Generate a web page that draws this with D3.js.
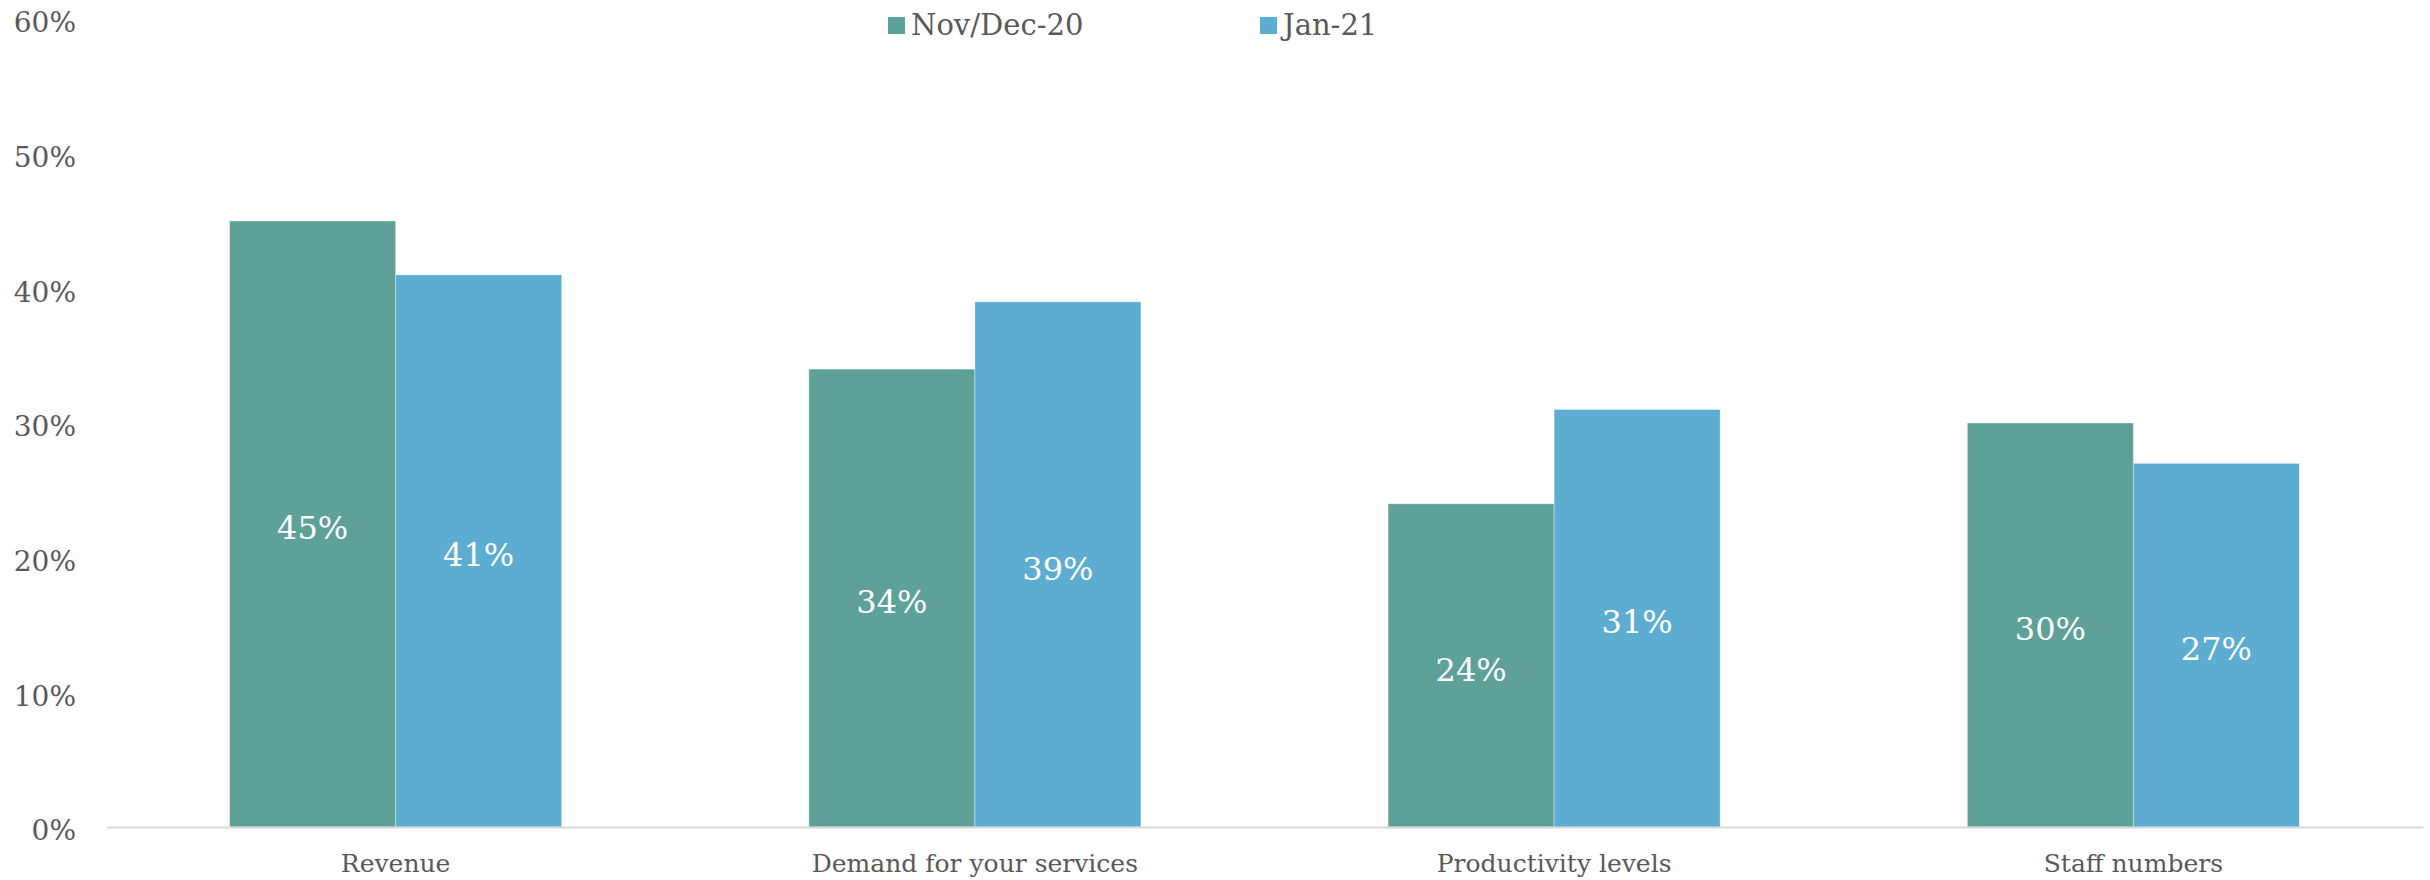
<!DOCTYPE html>
<html>
<head>
<meta charset="utf-8">
<script src="https://cdn.jsdelivr.net/npm/d3@7"></script>
<style>
  html, body { margin: 0; padding: 0; background: #fff; }
  svg { display: block; }
  text { font-family: "DejaVu Serif", "Liberation Serif", serif; }
</style>
</head>
<body>
<svg id="chart" width="2430" height="880"></svg>
<script>
// Survey categories and the two survey waves
const categories = ["Revenue", "Demand for your services", "Productivity levels", "Staff numbers"];
const seriesNames = ["Nov/Dec-20", "Jan-21"];
const novDec20 = [45, 34, 24, 30];
const jan21 = [41, 39, 31, 27];
const yTicks = [0, 10, 20, 30, 40, 50, 60];

const colors = ["#5DA199", "#5DADD3"];
const textColor = "#595959";

const W = 2430, H = 880;
const margin = { left: 106, right: 7, top: 19, bottom: 53 };
const svg = d3.select("#chart");

const x0 = d3.scaleBand()
  .domain(categories)
  .range([margin.left, W - margin.right])
  .paddingInner(0.4268)
  .paddingOuter(0.2134);

const x1 = d3.scaleBand()
  .domain(seriesNames)
  .range([0, x0.bandwidth()])
  .padding(0);

const y = d3.scaleLinear()
  .domain([0, 60])
  .range([H - margin.bottom, margin.top]);

const rows = categories.map((c, i) => ({
  category: c,
  values: [
    { series: seriesNames[0], value: novDec20[i], color: colors[0] },
    { series: seriesNames[1], value: jan21[i], color: colors[1] }
  ]
}));

// Y axis labels (no gridlines, no axis line)
const yAxis = d3.axisLeft(y).tickValues(yTicks).tickFormat(d => d + "%").tickSize(0).tickPadding(0);
const yG = svg.append("g").attr("transform", `translate(76,4)`).call(yAxis);
yG.select(".domain").remove();
yG.selectAll("text")
  .attr("fill", textColor)
  .style("font-size", "28px")
  .style("font-family", '"DejaVu Serif", serif');

// Bars
const groups = svg.append("g").selectAll("g")
  .data(rows)
  .join("g")
  .attr("transform", d => `translate(${x0(d.category)},0)`);

groups.selectAll("rect")
  .data(d => d.values)
  .join("rect")
  .attr("x", d => x1(d.series))
  .attr("y", d => y(d.value))
  .attr("width", x1.bandwidth())
  .attr("height", d => y(0) - y(d.value))
  .attr("fill", d => d.color)
  .attr("stroke", "rgba(255,255,255,0.35)")
  .attr("stroke-width", 1);

// Value labels, centred inside each bar
groups.selectAll("text.val")
  .data(d => d.values)
  .join("text")
  .attr("class", "val")
  .attr("x", d => x1(d.series) + x1.bandwidth() / 2)
  .attr("y", d => (y(d.value) + y(0)) / 2 + 4)
  .attr("dy", "0.35em")
  .attr("text-anchor", "middle")
  .attr("fill", "#fff")
  .style("font-size", "32px")
  .text(d => d.value + "%");

// Category axis along the baseline
const xAxis = d3.axisBottom(x0).tickSize(0).tickPadding(27);
const xG = svg.append("g").attr("transform", `translate(0,${y(0)})`).call(xAxis);
xG.select(".domain").attr("stroke", "#d9d9d9").attr("stroke-width", 2);
xG.selectAll("text")
  .attr("fill", textColor)
  .style("font-size", "25px")
  .style("font-family", '"DejaVu Serif", serif');

// Legend
const legendItems = [
  { name: seriesNames[0], color: colors[0], x: 888 },
  { name: seriesNames[1], color: colors[1], x: 1260 }
];
const legend = svg.append("g").selectAll("g")
  .data(legendItems)
  .join("g")
  .attr("transform", d => `translate(${d.x},17)`);
legend.append("rect")
  .attr("width", 17).attr("height", 17)
  .attr("fill", d => d.color);
legend.append("text")
  .attr("x", 23).attr("y", 8).attr("dy", "0.35em")
  .attr("fill", textColor)
  .style("font-size", "29px")
  .text(d => d.name);
</script>
</body>
</html>
